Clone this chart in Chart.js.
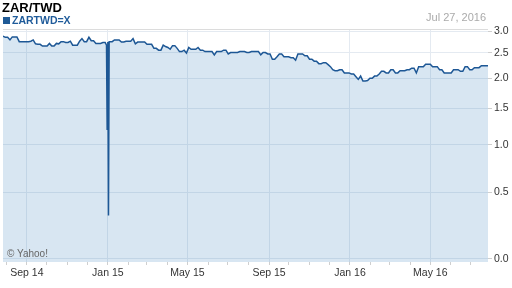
<!DOCTYPE html>
<html>
<head>
<meta charset="utf-8">
<script src="https://cdn.jsdelivr.net/npm/chart.js@4.4.0/dist/chart.umd.min.js"></script>
<style>
  body { margin: 0; background: #fff; }
  #wrap { position: relative; width: 512px; height: 288px; font-family: "Liberation Sans", Arial, sans-serif; }
  canvas { position: absolute; left: 0; top: 0; }
  .lbl { position: absolute; white-space: nowrap; line-height: 1; }
  #title { left: 2px; top: 1px; font-weight: bold; font-size: 13px; color: #000; }
  #legend { left: 12px; top: 15px; font-weight: bold; font-size: 10.5px; color: #1f5b9a; }
  #swatch { position: absolute; left: 3px; top: 17px; width: 7px; height: 7px; background: #1f5a96; }
  #date { right: 26px; top: 12px; font-size: 11px; color: #aaa; }
  #credit { left: 7px; top: 249px; font-size: 10px; color: #666; }
</style>
</head>
<body>
<div id="wrap">
  <canvas id="fxChart" width="512" height="288"></canvas>
  <div class="lbl" id="title">ZAR/TWD</div>
  <div id="swatch"></div>
  <div class="lbl" id="legend">ZARTWD=X</div>
  <div class="lbl" id="date">Jul 27, 2016</div>
  <div class="lbl" id="credit">© Yahoo!</div>
</div>
<script>
  // closes every half week (3.5 days) from Jul 27, 2014
  const seriesStart = Date.UTC(2014, 6, 27);
  const seriesDays = 731;
  const stepDays = 3.5;
  const halfWeekRates = [
    2.88, 2.85, 2.85, 2.79, 2.86, 2.86, 2.86, 2.75, 2.75, 2.75,
    2.75, 2.75, 2.76, 2.79, 2.70, 2.69, 2.69, 2.65, 2.65, 2.65,
    2.71, 2.65, 2.65, 2.71, 2.70, 2.75, 2.75, 2.73, 2.73, 2.76,
    2.67, 2.67, 2.67, 2.76, 2.82, 2.75, 2.75, 2.85, 2.77, 2.77,
    2.71, 2.71, 2.71, 2.73, 2.73, 2.70, 2.75, 2.75, 2.79, 2.79,
    2.79, 2.74, 2.74, 2.76, 2.76, 2.76, 2.82, 2.70, 2.74, 2.74,
    2.74, 2.74, 2.69, 2.69, 2.69, 2.60, 2.60, 2.56, 2.56, 2.67,
    2.64, 2.62, 2.58, 2.66, 2.66, 2.60, 2.53, 2.53, 2.56, 2.50,
    2.62, 2.58, 2.58, 2.58, 2.62, 2.56, 2.56, 2.53, 2.53, 2.53,
    2.53, 2.46, 2.53, 2.53, 2.53, 2.56, 2.56, 2.48, 2.51, 2.51,
    2.51, 2.51, 2.53, 2.53, 2.53, 2.51, 2.51, 2.53, 2.53, 2.53,
    2.53, 2.46, 2.51, 2.51, 2.48, 2.48, 2.37, 2.37, 2.42, 2.48,
    2.48, 2.42, 2.42, 2.42, 2.40, 2.40, 2.35, 2.48, 2.48, 2.48,
    2.44, 2.44, 2.37, 2.37, 2.33, 2.33, 2.28, 2.28, 2.30, 2.30,
    2.26, 2.22, 2.16, 2.14, 2.14, 2.16, 2.16, 2.10, 2.10, 2.10,
    2.08, 2.08, 2.03, 1.98, 2.04, 1.95, 1.95, 1.96, 2.00, 2.00,
    2.04, 2.04, 2.08, 2.13, 2.13, 2.10, 2.10, 2.16, 2.16, 2.10,
    2.10, 2.14, 2.14, 2.14, 2.16, 2.16, 2.19, 2.19, 2.10, 2.22,
    2.22, 2.22, 2.27, 2.27, 2.27, 2.22, 2.22, 2.22, 2.16, 2.16,
    2.10, 2.10, 2.10, 2.10, 2.16, 2.16, 2.16, 2.13, 2.13, 2.22,
    2.22, 2.16, 2.16, 2.20, 2.20, 2.20, 2.24, 2.24, 2.24
  ];
  const lastRate = 2.24;
  // bad ticks around new year 2015 (days after start)
  const spikeDays = [156, 157, 158, 159, 160];
  const spikeRates = [2.67, 1.20, 2.74, 0.30, 2.75];
  const yTicks = [0, 0.5, 1, 1.5, 2, 2.5, 3];
  const labelMonths = [0, 4, 8];
  const monthNames = ['Jan','Feb','Mar','Apr','May','Jun','Jul','Aug','Sep','Oct','Nov','Dec'];

  const DAY = 86400000;
  const points = halfWeekRates
    .map((v, i) => ({ x: i * stepDays, y: v }))
    .filter(p => p.x < spikeDays[0] || p.x > spikeDays[spikeDays.length - 1]);
  points.push({ x: seriesDays, y: lastRate });
  spikeDays.forEach((d, i) => points.push({ x: d, y: spikeRates[i] }));
  points.sort((a, b) => a.x - b.x);

  const monthTicks = [];
  for (let y = 2014, m = 7; y < 2016 || m <= 6; m++) {
    if (m > 11) { m = 0; y++; }
    monthTicks.push((Date.UTC(y, m, 1) - seriesStart) / DAY);
  }
  function tickDate(v) { return new Date(seriesStart + v * DAY); }
  function isLabeled(v) { return labelMonths.includes(tickDate(v).getUTCMonth()); }

  // y axis spaced by log(1 + v), like the source chart
  class Log1pScale extends Chart.LinearScale {
    getPixelForValue(value) {
      const a = Math.log1p(this.min), b = Math.log1p(this.max);
      return this.getPixelForDecimal((Math.log1p(value) - a) / (b - a));
    }
    getValueForPixel(pixel) {
      const a = Math.log1p(this.min), b = Math.log1p(this.max);
      return Math.expm1(a + this.getDecimalForPixel(pixel) * (b - a));
    }
  }
  Log1pScale.id = 'log1p';
  Log1pScale.defaults = Chart.LinearScale.defaults;
  Chart.register(Log1pScale);

  const topBorder = {
    id: 'topBorder',
    afterDraw(chart) {
      const { ctx, chartArea } = chart;
      ctx.save();
      ctx.strokeStyle = '#dcdcdc';
      ctx.lineWidth = 1;
      ctx.beginPath();
      ctx.moveTo(chartArea.left, chartArea.top + 0.5);
      ctx.lineTo(chartArea.right, chartArea.top + 0.5);
      ctx.stroke();
      ctx.restore();
    }
  };

  new Chart(document.getElementById('fxChart'), {
    type: 'line',
    data: {
      datasets: [{
        label: 'ZARTWD=X',
        data: points,
        borderColor: '#1d5795',
        borderWidth: 1.5,
        backgroundColor: 'rgba(60, 130, 190, 0.2)',
        fill: 'start',
        pointRadius: 0,
        tension: 0
      }]
    },
    options: {
      responsive: false,
      animation: false,
      devicePixelRatio: 1,
      layout: { padding: { left: 3, top: 29, right: 0, bottom: 0 } },
      plugins: { legend: { display: false }, tooltip: { enabled: false } },
      scales: {
        x: {
          type: 'linear',
          min: 0,
          max: seriesDays,
          afterBuildTicks: s => { s.ticks = monthTicks.map(v => ({ value: v })); },
          afterFit: s => { s.height = 26; },
          border: { display: false },
          grid: {
            color: c => (c.tick && isLabeled(c.tick.value)) ? '#e4eaf1' : 'rgba(0,0,0,0)',
            tickColor: '#cfcfcf',
            tickLength: 3
          },
          ticks: {
            autoSkip: false,
            maxRotation: 0,
            minRotation: 0,
            padding: 2,
            color: '#333',
            font: { family: 'Liberation Sans', size: 10.5 },
            callback: v => {
              const d = tickDate(v);
              return isLabeled(v) ? monthNames[d.getUTCMonth()] + ' ' + String(d.getUTCFullYear()).slice(2) : '';
            }
          }
        },
        y: {
          type: 'log1p',
          position: 'right',
          min: -0.02,
          max: 3.05,
          afterBuildTicks: s => { s.ticks = yTicks.map(v => ({ value: v })); },
          afterFit: s => { s.width = 24; },
          border: { display: false },
          grid: { color: '#e4eaf1', tickColor: '#cfcfcf', tickLength: 4 },
          ticks: {
            padding: 2,
            color: '#333',
            font: { family: 'Liberation Sans', size: 10.5 },
            callback: v => v.toFixed(1)
          }
        }
      }
    },
    plugins: [topBorder]
  });
</script>
</body>
</html>
